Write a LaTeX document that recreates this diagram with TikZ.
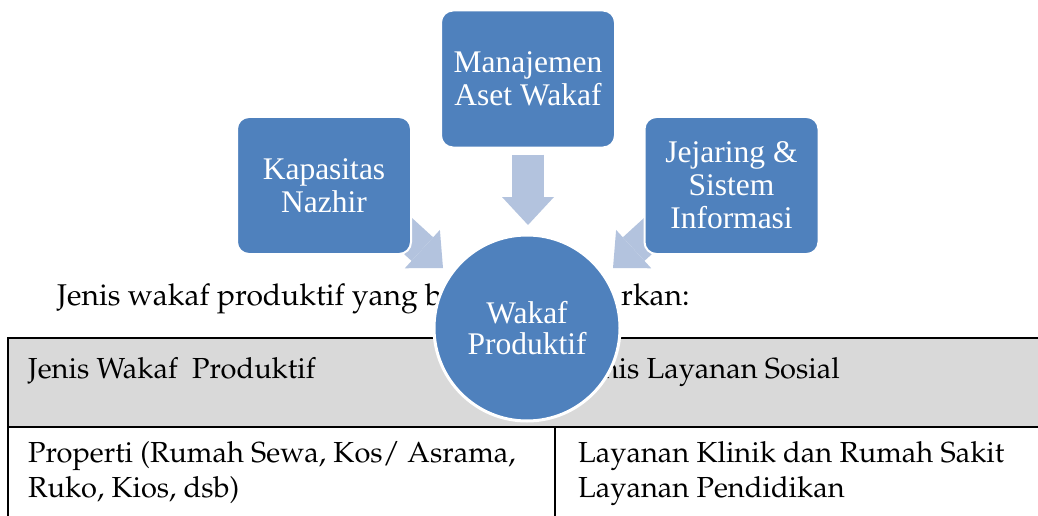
\documentclass[tikz,border=0pt]{standalone}
\usepackage[T1]{fontenc}
\usepackage{fontspec}
\setmainfont{Liberation Serif}
\usetikzlibrary{arrows.meta}
\definecolor{wakafblue}{RGB}{79,129,189}
\definecolor{panahblue}{RGB}{179,195,222}
\definecolor{headgray}{RGB}{217,217,217}
\newcommand{\palatext}{\fontencoding{T1}\fontfamily{ppl}\fontsize{29}{35}\selectfont}
\begin{document}
\begin{tikzpicture}[x=1pt,y=-1pt,
  kotak/.style={draw=white, line width=2pt, fill=wakafblue, rounded corners=12pt, minimum width=174pt, minimum height=137pt, inner sep=0pt, text=white, align=center, font=\fontsize{31.5}{33}\selectfont},
  bulat/.style={circle, draw=white, line width=3pt, fill=wakafblue, minimum size=186pt, inner sep=0pt, text=white, align=center, font=\fontsize{31.5}{31}\selectfont},
  panah/.style={draw=panahblue, line width=32pt, -{Triangle[length=28pt,width=52pt,line width=0pt]}},
  teks/.style={anchor=base west, inner sep=0pt, font=\palatext}]
\useasboundingbox (0,0) rectangle (1038,516);

% tabel
\fill[headgray] (8,338) rectangle (1038,427);
\draw[line width=2.5pt] (1038,338) -- (8,338) -- (8,516);
\draw[line width=2pt] (8,427) -- (1038,427);
\draw[line width=2pt] (555,427) -- (555,516);

\node[teks, font=\palatext\fontsize{30}{35}\selectfont] (kalimat) at (57,305) {Jenis wakaf produktif yang bi};
\node[teks, font=\palatext\fontsize{30}{35}\selectfont] (kalimat2) at (621,305) {rkan:};
\node[teks] (kol1) at (28,378) {Jenis Wakaf~ Produktif};
\node[teks] (kol2) at (578,378) {Jenis Layanan Sosial};
\node[teks] (isi1a) at (28,462) {Properti (Rumah Sewa, Kos/ Asrama,};
\node[teks] (isi1b) at (28,497) {Ruko, Kios, dsb)};
\node[teks] (isi2a) at (578,462) {Layanan Klinik dan Rumah Sakit};
\node[teks] (isi2b) at (578,497) {Layanan Pendidikan};

% panah samping
\coordinate (ekorK) at (384,214);
\coordinate (ujungK) at (443,268);
\coordinate (ekorJ) at (672,214);
\coordinate (ujungJ) at (613,268);
\draw[panah] (ekorK) -- (ujungK);
\draw[panah] (ekorJ) -- (ujungJ);

\node[kotak] (kapasitas) at (324,185.5) {Kapasitas\\Nazhir};
\node[kotak] (manajemen) at (528,79) {Manajemen\\Aset Wakaf};
\node[kotak] (jejaring) at (731.5,185.5) {Jejaring \&\\Sistem\\Informasi};

\coordinate (ujungM) at (528,225);
\draw[panah, shorten <=6pt] (manajemen.south) -- (ujungM);

\node[bulat] (wakaf) at (527,328) {Wakaf\\Produktif};
\end{tikzpicture}
\end{document}
